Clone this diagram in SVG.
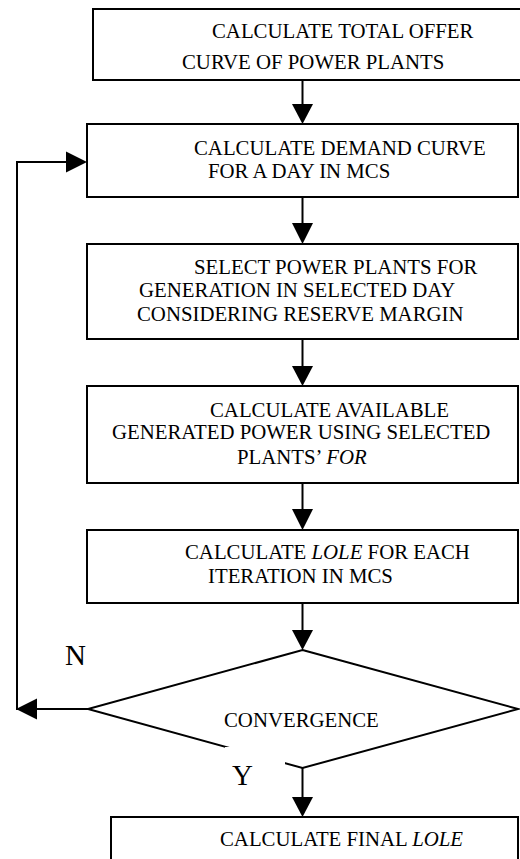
<svg xmlns="http://www.w3.org/2000/svg" width="520" height="859" viewBox="0 0 520 859">
  <style>
    .box { fill: #fff; stroke: #000; stroke-width: 2; }
    .line { fill: none; stroke: #000; stroke-width: 2; }
    .head { fill: #000; stroke: none; }
    text { font-family: 'Liberation Serif', 'Times New Roman', 'DejaVu Serif', serif; font-size: 20.8px; fill: #000; }
    .lbl { font-size: 29px; }
    .it { font-style: italic; }
  </style>
  <rect width="520" height="859" fill="#fff"/>

  <g id="connectors">
    <line class="line" x1="302.5" y1="81" x2="302.5" y2="105"/>
    <polygon class="head" points="292,104 313,104 302.5,124"/>
    <line class="line" x1="302.5" y1="197" x2="302.5" y2="224"/>
    <polygon class="head" points="292,223 313,223 302.5,244"/>
    <line class="line" x1="302.5" y1="339" x2="302.5" y2="367"/>
    <polygon class="head" points="292,366 313,366 302.5,386"/>
    <line class="line" x1="302.5" y1="483" x2="302.5" y2="510"/>
    <polygon class="head" points="292,509 313,509 302.5,530"/>
    <line class="line" x1="302.5" y1="603" x2="302.5" y2="631"/>
    <polygon class="head" points="292,630 313,630 302.5,650"/>
    <line class="line" x1="302.5" y1="768" x2="302.5" y2="798"/>
    <polygon class="head" points="292,797 313,797 302.5,817"/>
    <polyline class="line" points="88,709 17,709 17,162 67,162"/>
    <polygon class="head" points="16,709 37,698.5 37,719.5"/>
    <polygon class="head" points="66,151.5 66,172.5 87,162"/>
  </g>

  <g id="node-offer">
    <rect class="box" x="93" y="9" width="440" height="71"/>
    <text x="212" y="38">CALCULATE TOTAL OFFER</text>
    <text x="182" y="69">CURVE OF POWER PLANTS</text>
  </g>

  <g id="node-demand">
    <rect class="box" x="87" y="124" width="431" height="73"/>
    <text x="194" y="155">CALCULATE DEMAND CURVE</text>
    <text x="208" y="178">FOR A DAY IN MCS</text>
  </g>

  <g id="node-select">
    <rect class="box" x="87" y="244" width="431" height="95"/>
    <text x="194" y="274">SELECT POWER PLANTS FOR</text>
    <text x="139" y="297">GENERATION IN SELECTED DAY</text>
    <text x="137" y="321">CONSIDERING RESERVE MARGIN</text>
  </g>

  <g id="node-available">
    <rect class="box" x="87" y="386" width="431" height="97"/>
    <text x="210" y="417">CALCULATE AVAILABLE</text>
    <text x="112" y="439">GENERATED POWER USING SELECTED</text>
    <text x="237" y="464">PLANTS’ <tspan class="it">FOR</tspan></text>
  </g>

  <g id="node-lole">
    <rect class="box" x="87" y="530" width="431" height="73"/>
    <text x="185" y="559">CALCULATE <tspan class="it">LOLE</tspan> FOR EACH</text>
    <text x="208" y="583">ITERATION IN MCS</text>
  </g>

  <g id="node-convergence">
    <polygon class="line" points="302.5,650 518,709 302.5,768 88,709"/>
    <text x="224" y="727">CONVERGENCE</text>
  </g>

  <g id="label-n">
    <text class="lbl" x="65" y="665">N</text>
  </g>

  <g id="label-y">
    <rect x="225" y="747" width="60" height="48" fill="#fff"/>
    <text class="lbl" x="232" y="785">Y</text>
  </g>

  <g id="node-final">
    <rect class="box" x="111" y="817" width="407" height="60"/>
    <text x="220" y="846">CALCULATE FINAL <tspan class="it">LOLE</tspan></text>
  </g>
</svg>
